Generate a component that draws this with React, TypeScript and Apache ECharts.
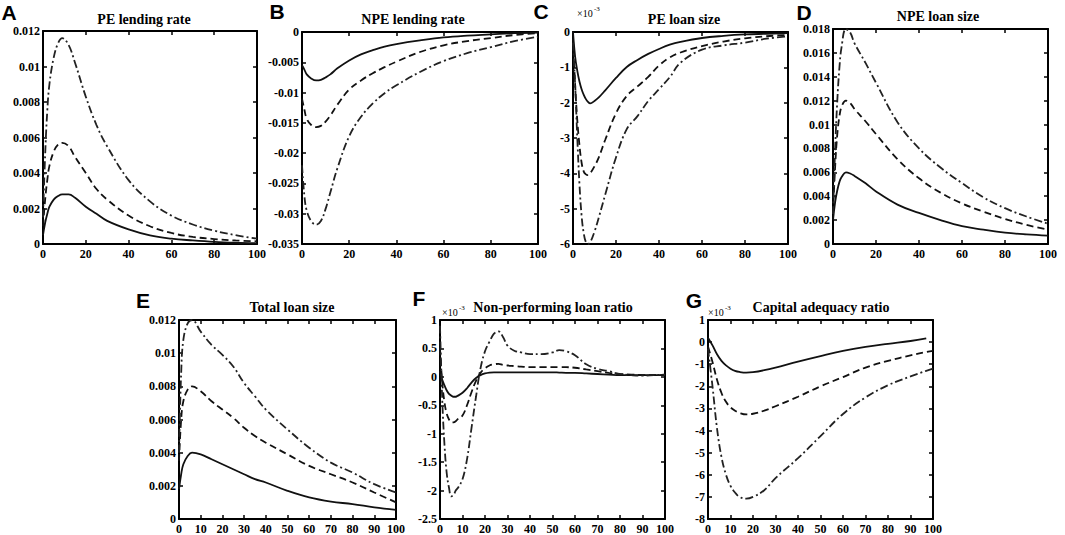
import React, { useEffect, useRef } from "react";
import * as echarts from "echarts";

// ---------- Data ----------
const xA = [0, 1, 2, 3, 5, 7, 9, 12, 15, 20, 25, 30, 40, 50, 60, 70, 80, 90, 100];
const aSolid = [0.0005, 0.0012, 0.0017, 0.0021, 0.0025, 0.0027, 0.0028, 0.0028, 0.0026, 0.0021, 0.0017, 0.0013, 0.00082, 0.00048, 0.0003, 0.0002, 0.00012, 0.00007, 0.00004];
const aDash = [0.001, 0.0025, 0.0036, 0.0044, 0.0052, 0.0056, 0.0057, 0.0055, 0.0049, 0.004, 0.0031, 0.0025, 0.0016, 0.001, 0.00062, 0.0004, 0.00028, 0.0002, 0.00015];
const aDashDot = [0.0015, 0.005, 0.0075, 0.009, 0.0105, 0.0113, 0.0116, 0.0112, 0.0102, 0.0083, 0.0067, 0.0055, 0.0036, 0.0024, 0.0016, 0.0011, 0.00075, 0.0005, 0.0003];

const xB = [0, 1, 2, 4, 6, 8, 10, 12, 15, 20, 25, 30, 35, 40, 50, 60, 70, 80, 90, 100];
const bSolid = [-0.0055, -0.0062, -0.007, -0.0077, -0.008, -0.0079, -0.0075, -0.007, -0.006, -0.0047, -0.0037, -0.003, -0.0024, -0.002, -0.0014, -0.0009, -0.0006, -0.0004, -0.0002, -0.0001];
const bDash = [-0.011, -0.0128, -0.0143, -0.0154, -0.0157, -0.0155, -0.0148, -0.0138, -0.012, -0.0095, -0.008, -0.0068, -0.0058, -0.0049, -0.0033, -0.0022, -0.0015, -0.001, -0.0005, -0.0002];
const bDashDot = [-0.022, -0.027, -0.0295, -0.0313, -0.0318, -0.0312, -0.0292, -0.0265, -0.0225, -0.0172, -0.014, -0.0118, -0.0101, -0.0088, -0.0066, -0.0048, -0.0035, -0.0025, -0.0015, -0.0008];

// panel C values in units of 1e-3
const xC = [0, 1, 2, 3, 4, 5, 6, 7, 8, 10, 12, 15, 20, 25, 30, 35, 40, 45, 50, 60, 70, 80, 90, 100];
const cSolid = [0, -0.7, -1.1, -1.4, -1.62, -1.78, -1.9, -1.98, -2.02, -1.95, -1.85, -1.65, -1.3, -0.99, -0.79, -0.62, -0.48, -0.36, -0.28, -0.17, -0.11, -0.07, -0.05, -0.03];
const cDash = [-0.2, -1.5, -2.5, -3.2, -3.7, -3.95, -4.03, -4.05, -4.0, -3.8, -3.55, -3.05, -2.3, -1.81, -1.54, -1.27, -0.95, -0.72, -0.58, -0.4, -0.27, -0.18, -0.12, -0.08];
const cDashDot = [-0.3, -1.5, -3.0, -4.3, -5.2, -5.7, -5.95, -6.0, -5.95, -5.65, -5.25, -4.6, -3.55, -2.75, -2.38, -1.95, -1.62, -1.28, -0.87, -0.5, -0.38, -0.3, -0.19, -0.12];

const xD = [0, 1, 2, 3, 4, 6, 8, 10, 15, 20, 30, 40, 50, 60, 70, 80, 90, 100];
const dSolid = [0.002, 0.0035, 0.0045, 0.0052, 0.0056, 0.006, 0.0059, 0.0057, 0.0051, 0.0044, 0.0033, 0.0026, 0.002, 0.0015, 0.0012, 0.00095, 0.0008, 0.0007];
const dDash = [0.0025, 0.0065, 0.0092, 0.0107, 0.0115, 0.012, 0.0118, 0.0113, 0.0103, 0.0092, 0.0071, 0.0055, 0.0043, 0.0034, 0.0027, 0.0021, 0.0016, 0.0012];
const dDashDot = [0.0025, 0.008, 0.012, 0.0148, 0.0165, 0.018, 0.0177, 0.0168, 0.0152, 0.0135, 0.0102, 0.008, 0.0064, 0.0051, 0.0039, 0.003, 0.0023, 0.0017];

const xE = [0, 1, 2, 4, 6, 10, 15, 20, 25, 30, 35, 40, 50, 60, 70, 80, 90, 100];
const eSolid = [0.0018, 0.0027, 0.0033, 0.0038, 0.004, 0.0039, 0.0036, 0.0033, 0.003, 0.0027, 0.0024, 0.0022, 0.0017, 0.0013, 0.00105, 0.0009, 0.0007, 0.00055];
const eDash = [0.0035, 0.006, 0.0071, 0.0078, 0.008, 0.0077, 0.0071, 0.0066, 0.0061, 0.0055, 0.005, 0.0046, 0.0039, 0.0032, 0.0027, 0.0022, 0.0016, 0.001];
const eDashDot = [0.004, 0.0088, 0.0108, 0.0118, 0.012, 0.0113, 0.0105, 0.0099, 0.0092, 0.0082, 0.0074, 0.0066, 0.0054, 0.0043, 0.0034, 0.0028, 0.0021, 0.0016];

// panel F values in units of 1e-3
const xF = [0, 1, 2, 3, 4, 5, 6, 7, 8, 10, 12, 14, 16, 18, 20, 22, 24, 26, 28, 30, 33, 36, 40, 45, 50, 53, 56, 60, 65, 70, 75, 80, 85, 90, 95, 100];
const fSolid = [0.1, -0.05, -0.15, -0.24, -0.3, -0.33, -0.35, -0.35, -0.33, -0.28, -0.2, -0.1, -0.02, 0.03, 0.06, 0.075, 0.08, 0.08, 0.08, 0.08, 0.08, 0.08, 0.08, 0.08, 0.08, 0.075, 0.07, 0.07, 0.06, 0.05, 0.04, 0.03, 0.03, 0.03, 0.03, 0.03];
const fDash = [0.5, -0.1, -0.45, -0.65, -0.75, -0.8, -0.8, -0.78, -0.74, -0.68, -0.5, -0.27, -0.07, 0.07, 0.15, 0.2, 0.22, 0.23, 0.21, 0.2, 0.19, 0.18, 0.17, 0.17, 0.17, 0.17, 0.17, 0.16, 0.13, 0.1, 0.07, 0.05, 0.04, 0.03, 0.03, 0.03];
const fDashDot = [0.9, -0.4, -1.2, -1.7, -1.95, -2.1, -2.08, -2.0, -1.95, -1.8, -1.45, -0.9, -0.35, 0.15, 0.45, 0.62, 0.76, 0.8, 0.7, 0.55, 0.46, 0.43, 0.4, 0.4, 0.43, 0.47, 0.45, 0.38, 0.22, 0.14, 0.1, 0.05, 0.03, 0.02, 0.03, 0.04];

// panel G values in units of 1e-3
const xG = [0, 2, 4, 6, 8, 10, 12, 14, 17, 20, 25, 30, 40, 50, 60, 70, 80, 90, 97, 100];
const gSolid = [0.2, -0.15, -0.55, -0.85, -1.05, -1.2, -1.3, -1.35, -1.38, -1.36, -1.27, -1.15, -0.88, -0.63, -0.4, -0.22, -0.08, 0.05, 0.17, null];
const gDash = [-0.2, -0.9, -1.7, -2.3, -2.7, -2.95, -3.1, -3.2, -3.27, -3.24, -3.1, -2.9, -2.47, -2.0, -1.58, -1.15, -0.85, -0.6, -0.45, -0.4];
const gDashDot = [-0.3, -2.0, -3.9, -5.2, -6.0, -6.5, -6.8, -7.0, -7.08, -7.0, -6.7, -6.15, -5.25, -4.25, -3.25, -2.5, -1.95, -1.55, -1.3, -1.2];

const titles = ["PE lending rate", "NPE lending rate", "PE loan size", "NPE loan size", "Total loan size", "Non-performing loan ratio", "Capital adequacy ratio"];
const letters = ["A", "B", "C", "D", "E", "F", "G"];
const exponentText = "×10";
const exponentPower = "-3";

type Panel = {
  x: number[];
  solid: (number | null)[];
  dash: (number | null)[];
  dashdot: (number | null)[];
  yMin: number;
  yMax: number;
  yInt: number;
  xInt: number;
  grid: [number, number, number, number];
  titlePos: [number, number];
  letterPos: [number, number];
  expPos?: [number, number];
};

const panels: Panel[] = [
  { x: xA, solid: aSolid, dash: aDash, dashdot: aDashDot, yMin: 0, yMax: 0.012, yInt: 0.002, xInt: 20, grid: [43, 31, 214, 213], titlePos: [144, 19], letterPos: [9, 12] },
  { x: xB, solid: bSolid, dash: bDash, dashdot: bDashDot, yMin: -0.035, yMax: 0, yInt: 0.005, xInt: 20, grid: [302, 32, 236, 212], titlePos: [413, 19], letterPos: [277, 11] },
  { x: xC, solid: cSolid, dash: cDash, dashdot: cDashDot, yMin: -6, yMax: 0, yInt: 1, xInt: 20, grid: [573, 32, 215, 212], titlePos: [684, 19], letterPos: [541, 11], expPos: [577, 13] },
  { x: xD, solid: dSolid, dash: dDash, dashdot: dDashDot, yMin: 0, yMax: 0.018, yInt: 0.002, xInt: 20, grid: [833, 29, 215, 215], titlePos: [938, 16], letterPos: [804, 12] },
  { x: xE, solid: eSolid, dash: eDash, dashdot: eDashDot, yMin: 0, yMax: 0.012, yInt: 0.002, xInt: 10, grid: [179, 320, 217, 202], titlePos: [292, 307], letterPos: [143, 300] },
  { x: xF, solid: fSolid, dash: fDash, dashdot: fDashDot, yMin: -2.5, yMax: 1, yInt: 0.5, xInt: 10, grid: [440, 320, 225, 202], titlePos: [553, 307], letterPos: [419, 298], expPos: [442, 312] },
  { x: xG, solid: gSolid, dash: gDash, dashdot: gDashDot, yMin: -8, yMax: 1, yInt: 1, xInt: 10, grid: [708, 320, 225, 202], titlePos: [821, 307], letterPos: [694, 300], expPos: [708, 312] },
];

const SERIF = "Liberation Serif";
const SANS = "Liberation Sans";

export default function App() {
  const ref = useRef<HTMLDivElement>(null);

  useEffect(() => {
    if (!ref.current) return;
    const chart = echarts.init(ref.current, null, { renderer: "svg" });

    const grids: any[] = [];
    const xAxes: any[] = [];
    const yAxes: any[] = [];
    const series: any[] = [];
    const graphics: any[] = [];

    const axisLine = { show: true, onZero: false, lineStyle: { color: "#000", width: 2 } };
    const axisTick = { show: true, inside: true, length: 4, lineStyle: { color: "#000", width: 1.5 } };
    const label = { color: "#000", fontFamily: SERIF, fontWeight: "bold", fontSize: 12 };

    panels.forEach((p, i) => {
      grids.push({ left: p.grid[0], top: p.grid[1], width: p.grid[2], height: p.grid[3], containLabel: false });
      const xBase = { gridIndex: i, type: "value", min: 0, max: 100, interval: p.xInt, axisLine, axisTick, splitLine: { show: false } };
      xAxes.push({ ...xBase, position: "bottom", axisLabel: { ...label, margin: 4 } });
      xAxes.push({ ...xBase, position: "top", axisLabel: { show: false } });
      const yBase = { gridIndex: i, type: "value", min: p.yMin, max: p.yMax, interval: p.yInt, axisLine, axisTick, splitLine: { show: false } };
      yAxes.push({ ...yBase, position: "left", axisLabel: { ...label, margin: 3 } });
      yAxes.push({ ...yBase, position: "right", axisLabel: { show: false } });

      const mk = (arr: (number | null)[], type: any, color: string) => ({
        type: "line",
        xAxisIndex: 2 * i,
        yAxisIndex: 2 * i,
        showSymbol: false,
        smooth: 0.4,
        clip: true,
        data: p.x.map((xv, j) => [xv, arr[j]]),
        lineStyle: { color, width: 1.8, type },
      });
      series.push(mk(p.solid, "solid", "#111"));
      series.push(mk(p.dash, [7, 4], "#111"));
      series.push(mk(p.dashdot, [8, 3, 2, 3], "#222"));

      graphics.push({
        type: "text",
        x: p.titlePos[0],
        y: p.titlePos[1],
        style: { text: titles[i], fontFamily: SERIF, fontWeight: "bold", fontSize: 14, fill: "#000", textAlign: "center", textVerticalAlign: "middle", align: "center", verticalAlign: "middle" },
      });
      graphics.push({
        type: "text",
        x: p.letterPos[0],
        y: p.letterPos[1],
        style: { text: letters[i], fontFamily: SANS, fontWeight: "bold", fontSize: 21, fill: "#000", textAlign: "center", textVerticalAlign: "middle", align: "center", verticalAlign: "middle" },
      });
      if (p.expPos) {
        graphics.push({
          type: "text",
          x: p.expPos[0],
          y: p.expPos[1],
          style: { text: exponentText, fontFamily: SERIF, fontSize: 10, fill: "#000", textAlign: "left", textVerticalAlign: "middle", align: "left", verticalAlign: "middle" },
        });
        graphics.push({
          type: "text",
          x: p.expPos[0] + 17,
          y: p.expPos[1] - 4,
          style: { text: exponentPower, fontFamily: SERIF, fontSize: 7, fill: "#000", textAlign: "left", textVerticalAlign: "middle", align: "left", verticalAlign: "middle" },
        });
      }
    });

    chart.setOption({
      animation: false,
      backgroundColor: "#fff",
      grid: grids,
      xAxis: xAxes,
      yAxis: yAxes,
      series,
      graphic: graphics,
    });

    return () => chart.dispose();
  }, []);

  return (
    <div
      ref={ref}
      style={{ position: "absolute", left: 0, top: 0, width: 1065, height: 535, background: "#fff" }}
    />
  );
}
